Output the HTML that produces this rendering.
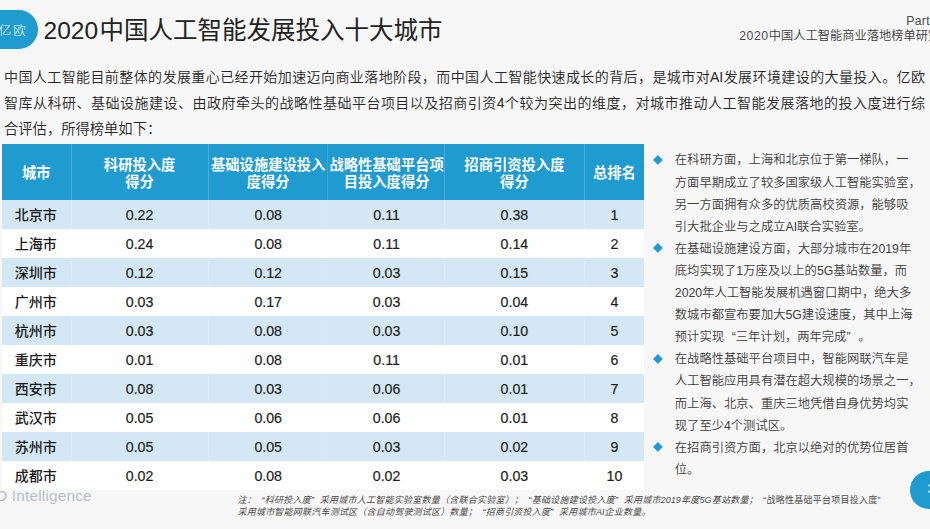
<!DOCTYPE html>
<html lang="zh-CN">
<head>
<meta charset="utf-8">
<title>2020中国人工智能发展投入十大城市</title>
<style>
*{margin:0;padding:0;box-sizing:border-box;}
html,body{width:930px;height:529px;overflow:hidden;background:#f7f7f7;}
body{position:relative;font-family:"Liberation Sans","Noto Sans CJK SC",sans-serif;color:#2a2a2a;}
.abs{position:absolute;white-space:nowrap;}
/* top-left pill */
#pill{left:-20px;top:10px;width:57.5px;height:38.5px;border-radius:19.25px;background:#1f9bcf;}
#pilltxt{left:-1.4px;top:22.7px;font-size:12.5px;line-height:17px;color:#fff;font-weight:300;letter-spacing:2.1px;}
#title{left:43.5px;top:13.8px;font-size:24.5px;line-height:34px;color:#222;}
#part{left:906.3px;top:13px;font-size:12.2px;line-height:16px;color:#484848;letter-spacing:0.3px;}
#sub{left:739.2px;top:27.8px;font-size:12.25px;line-height:16px;color:#3c3c3c;font-weight:350;}
#sub .d{letter-spacing:0.55px;color:#484848;}
#title .d{margin-right:1.6px;}
.ql{padding-left:.62em;}
.qr{padding-right:.62em;}
/* paragraph */
.pl{left:4px;width:921px;font-size:14px;line-height:26px;color:#262626;font-weight:350;text-align:justify;text-align-last:justify;}
.pl.last{width:auto;text-align:left;text-align-last:left;font-size:14.3px;}
/* table */
#thead{left:1.5px;top:143.9px;width:642.2px;height:55.7px;background:#1f9bcf;}
.vl{position:absolute;top:144px;width:1px;height:345.6px;background:linear-gradient(rgba(255,255,255,.2) 0,rgba(255,255,255,.2) 55.6px,rgba(255,255,255,.18) 55.6px);}
.row{position:absolute;left:1.5px;width:642.2px;height:29.1px;}
.row.b{background:#d3e8f4;}
.row.w{background:#ffffff;}
.th{position:absolute;color:#fff;font-weight:bold;font-size:14.3px;line-height:16.7px;text-align:center;white-space:nowrap;transform:translateX(-50%);}
.c{position:absolute;font-size:14.2px;line-height:29.15px;text-align:center;white-space:nowrap;transform:translateX(-50%);color:#1e1e1e;-webkit-text-stroke:0.2px #1e1e1e;}
.c.city{font-weight:500;font-size:14px;margin-left:-0.5px;-webkit-text-stroke:0;color:#1a1a1a;}
/* bullets */
.bl{left:674.8px;font-size:12.3px;line-height:22px;color:#3c3c3c;font-weight:350;}
.dm{position:absolute;left:652.8px;width:9.8px;height:9.8px;}
/* footer */
#eo{left:-15.2px;top:486px;font-size:15.3px;line-height:20px;color:#b7bec8;letter-spacing:0.22px;}
.fn{left:237.5px;font-size:9px;line-height:12px;color:#4a4a4a;font-style:italic;text-align:justify;text-align-last:justify;}
#pg{left:910.2px;top:471px;width:60px;height:37.6px;border-radius:18.8px;background:#1f9bcf;box-shadow:0 0 2px 1px rgba(255,255,255,.75);}
#pgt{left:927.6px;top:480px;font-size:13px;line-height:18px;color:#fff;}
</style>
</head>
<body>
<div class="abs" id="pill"></div>
<div class="abs" id="pilltxt">亿欧</div>
<div class="abs" id="title"><span class="d">2020</span>中国人工智能发展投入十大城市</div>
<div class="abs" id="part">Part 3</div>
<div class="abs" id="sub"><span class="d">2020</span>中国人工智能商业落地榜单研究报告</div>

<div class="abs pl" style="top:64px">中国人工智能目前整体的发展重心已经开始加速迈向商业落地阶段，而中国人工智能快速成长的背后，是城市对AI发展环境建设的大量投入。亿欧</div>
<div class="abs pl" style="top:89.8px">智库从科研、基础设施建设、由政府牵头的战略性基础平台项目以及招商引资4个较为突出的维度，对城市推动人工智能发展落地的投入度进行综</div>
<div class="abs pl last" style="top:115.6px">合评估，所得榜单如下：</div>

<!-- table -->
<div class="abs" id="thead"></div>
<div class="row b" style="top:199.60px"></div>
<div class="row w" style="top:228.64px"></div>
<div class="row b" style="top:257.68px"></div>
<div class="row w" style="top:286.72px"></div>
<div class="row b" style="top:315.76px"></div>
<div class="row w" style="top:344.80px"></div>
<div class="row b" style="top:373.84px"></div>
<div class="row w" style="top:402.88px"></div>
<div class="row b" style="top:431.92px"></div>
<div class="row w" style="top:460.96px"></div>
<div class="vl" style="left:71px"></div>
<div class="vl" style="left:207.8px"></div>
<div class="vl" style="left:327.3px;opacity:.6"></div>
<div class="vl" style="left:444.1px"></div>
<div class="vl" style="left:584.1px"></div>

<div class="th" style="left:36.3px;top:164.9px">城市</div>
<div class="th" style="left:139.6px;top:157px">科研投入度<br>得分</div>
<div class="th" style="left:268.2px;top:157px">基础设施建设投入<br>度得分</div>
<div class="th" style="left:386.6px;top:157px">战略性基础平台项<br>目投入度得分</div>
<div class="th" style="left:514.4px;top:157px">招商引资投入度<br>得分</div>
<div class="th" style="left:614.4px;top:164.9px">总排名</div>

<div class="c city" style="left:36.3px;top:201.00px">北京市</div>
<div class="c" style="left:139.6px;top:201.00px">0.22</div>
<div class="c" style="left:268.2px;top:201.00px">0.08</div>
<div class="c" style="left:386.6px;top:201.00px">0.11</div>
<div class="c" style="left:514.4px;top:201.00px">0.38</div>
<div class="c" style="left:614.4px;top:201.00px">1</div>
<div class="c city" style="left:36.3px;top:230.04px">上海市</div>
<div class="c" style="left:139.6px;top:230.04px">0.24</div>
<div class="c" style="left:268.2px;top:230.04px">0.08</div>
<div class="c" style="left:386.6px;top:230.04px">0.11</div>
<div class="c" style="left:514.4px;top:230.04px">0.14</div>
<div class="c" style="left:614.4px;top:230.04px">2</div>
<div class="c city" style="left:36.3px;top:259.08px">深圳市</div>
<div class="c" style="left:139.6px;top:259.08px">0.12</div>
<div class="c" style="left:268.2px;top:259.08px">0.12</div>
<div class="c" style="left:386.6px;top:259.08px">0.03</div>
<div class="c" style="left:514.4px;top:259.08px">0.15</div>
<div class="c" style="left:614.4px;top:259.08px">3</div>
<div class="c city" style="left:36.3px;top:288.12px">广州市</div>
<div class="c" style="left:139.6px;top:288.12px">0.03</div>
<div class="c" style="left:268.2px;top:288.12px">0.17</div>
<div class="c" style="left:386.6px;top:288.12px">0.03</div>
<div class="c" style="left:514.4px;top:288.12px">0.04</div>
<div class="c" style="left:614.4px;top:288.12px">4</div>
<div class="c city" style="left:36.3px;top:317.16px">杭州市</div>
<div class="c" style="left:139.6px;top:317.16px">0.03</div>
<div class="c" style="left:268.2px;top:317.16px">0.08</div>
<div class="c" style="left:386.6px;top:317.16px">0.03</div>
<div class="c" style="left:514.4px;top:317.16px">0.10</div>
<div class="c" style="left:614.4px;top:317.16px">5</div>
<div class="c city" style="left:36.3px;top:346.20px">重庆市</div>
<div class="c" style="left:139.6px;top:346.20px">0.01</div>
<div class="c" style="left:268.2px;top:346.20px">0.08</div>
<div class="c" style="left:386.6px;top:346.20px">0.11</div>
<div class="c" style="left:514.4px;top:346.20px">0.01</div>
<div class="c" style="left:614.4px;top:346.20px">6</div>
<div class="c city" style="left:36.3px;top:375.24px">西安市</div>
<div class="c" style="left:139.6px;top:375.24px">0.08</div>
<div class="c" style="left:268.2px;top:375.24px">0.03</div>
<div class="c" style="left:386.6px;top:375.24px">0.06</div>
<div class="c" style="left:514.4px;top:375.24px">0.01</div>
<div class="c" style="left:614.4px;top:375.24px">7</div>
<div class="c city" style="left:36.3px;top:404.28px">武汉市</div>
<div class="c" style="left:139.6px;top:404.28px">0.05</div>
<div class="c" style="left:268.2px;top:404.28px">0.06</div>
<div class="c" style="left:386.6px;top:404.28px">0.06</div>
<div class="c" style="left:514.4px;top:404.28px">0.01</div>
<div class="c" style="left:614.4px;top:404.28px">8</div>
<div class="c city" style="left:36.3px;top:433.32px">苏州市</div>
<div class="c" style="left:139.6px;top:433.32px">0.05</div>
<div class="c" style="left:268.2px;top:433.32px">0.05</div>
<div class="c" style="left:386.6px;top:433.32px">0.03</div>
<div class="c" style="left:514.4px;top:433.32px">0.02</div>
<div class="c" style="left:614.4px;top:433.32px">9</div>
<div class="c city" style="left:36.3px;top:462.36px">成都市</div>
<div class="c" style="left:139.6px;top:462.36px">0.02</div>
<div class="c" style="left:268.2px;top:462.36px">0.08</div>
<div class="c" style="left:386.6px;top:462.36px">0.02</div>
<div class="c" style="left:514.4px;top:462.36px">0.03</div>
<div class="c" style="left:614.4px;top:462.36px">10</div>

<!-- bullets -->
<svg class="dm" style="top:154.90px" viewBox="0 0 10 10"><path d="M5 0 L10 5 L5 10 L0 5 Z" fill="#1f9bcf"/></svg>
<div class="abs bl j" style="top:149.40px">在科研方面，上海和北京位于第一梯队，一</div>
<div class="abs bl j" style="top:171.50px">方面早期成立了较多国家级人工智能实验室，</div>
<div class="abs bl j" style="top:193.60px">另一方面拥有众多的优质高校资源，能够吸</div>
<div class="abs bl" style="top:215.70px">引大批企业与之成立AI联合实验室。</div>
<svg class="dm" style="top:243.30px" viewBox="0 0 10 10"><path d="M5 0 L10 5 L5 10 L0 5 Z" fill="#1f9bcf"/></svg>
<div class="abs bl j" style="top:237.80px">在基础设施建设方面，大部分城市在2019年</div>
<div class="abs bl j" style="top:259.90px">底均实现了1万座及以上的5G基站数量，而</div>
<div class="abs bl j" style="top:282.00px">2020年人工智能发展机遇窗口期中，绝大多</div>
<div class="abs bl j" style="top:304.10px">数城市都宣布要加大5G建设速度，其中上海</div>
<div class="abs bl" style="top:326.20px">预计实现<span class="ql">“</span>三年计划，两年完成<span class="qr">”</span>。</div>
<svg class="dm" style="top:353.80px" viewBox="0 0 10 10"><path d="M5 0 L10 5 L5 10 L0 5 Z" fill="#1f9bcf"/></svg>
<div class="abs bl j" style="top:348.30px">在战略性基础平台项目中，智能网联汽车是</div>
<div class="abs bl j" style="top:370.40px">人工智能应用具有潜在超大规模的场景之一，</div>
<div class="abs bl j" style="top:392.50px">而上海、北京、重庆三地凭借自身优势均实</div>
<div class="abs bl" style="top:414.60px">现了至少4个测试区。</div>
<svg class="dm" style="top:442.20px" viewBox="0 0 10 10"><path d="M5 0 L10 5 L5 10 L0 5 Z" fill="#1f9bcf"/></svg>
<div class="abs bl j" style="top:436.70px">在招商引资方面，北京以绝对的优势位居首</div>
<div class="abs bl" style="top:458.80px">位。</div>

<!-- footer -->
<div class="abs" id="eo">EO Intelligence</div>
<div class="abs fn" style="top:494.2px;width:648.5px">注：<span class="ql">“</span>科研投入度<span class="qr">”</span>采用城市人工智能实验室数量（含联合实验室）；<span class="ql">“</span>基础设施建设投入度<span class="qr">”</span>采用城市2019年度5G基站数量；<span style="font-style:normal"><span class="ql">“</span>战略性基础平台项目投入度<span class="qr">”</span></span></div>
<div class="abs fn" style="top:506px;width:413px">采用城市智能网联汽车测试区（含自动驾驶测试区）数量；<span class="ql">“</span>招商引资投入度<span class="qr">”</span>采用城市AI企业数量。</div>
<div class="abs" id="pg"></div>
<div class="abs" id="pgt">35</div>
</body>
</html>
